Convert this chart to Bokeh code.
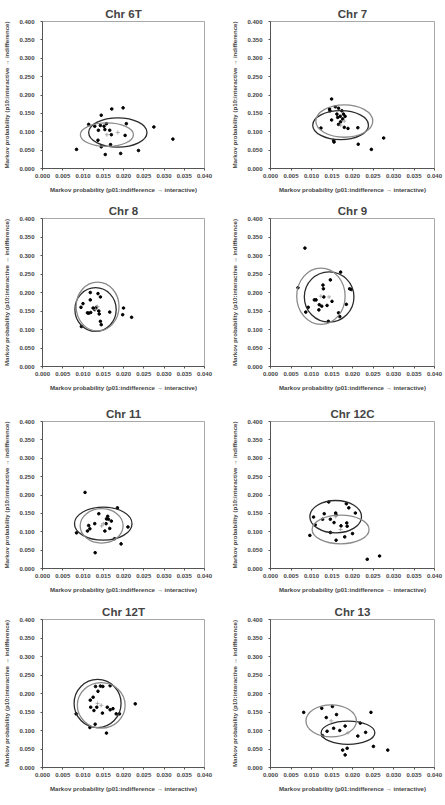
from bokeh.plotting import figure
from bokeh.layouts import column, row
from bokeh.models import FixedTicker, NumeralTickFormatter
from bokeh.embed import file_html
from bokeh.resources import INLINE

# Axis ticks shared by every panel
x_ticks = [0.000, 0.005, 0.010, 0.015, 0.020, 0.025, 0.030, 0.035, 0.040]
y_ticks = [0.000, 0.050, 0.100, 0.150, 0.200, 0.250, 0.300, 0.350, 0.400]

x_label = "Markov probability (p01:indifference \u2192 interactive)"
y_label = "Markov probability (p10:interactive \u2192 indifference)"

# ---- Chr 6T ----
chr6t_p01 = [0.0084, 0.0114, 0.0129, 0.0138, 0.0143, 0.0145, 0.0152, 0.0154, 0.0158, 0.0145,
             0.0137, 0.0171, 0.0166, 0.0170, 0.0155, 0.0168, 0.0199, 0.0204, 0.0207, 0.0193,
             0.0237, 0.0275, 0.0322]
chr6t_p10 = [0.052, 0.120, 0.115, 0.104, 0.117, 0.145, 0.115, 0.106, 0.122, 0.059,
             0.077, 0.162, 0.104, 0.092, 0.038, 0.065, 0.165, 0.090, 0.122, 0.041,
             0.049, 0.113, 0.080]
chr6t_ell_x = [0.0186, 0.0159]
chr6t_ell_y = [0.098, 0.092]
chr6t_ell_w = [0.0144, 0.0131]
chr6t_ell_h = [0.080, 0.064]

# ---- Chr 7 ----
chr7_p01 = [0.0149, 0.0144, 0.0145, 0.0158, 0.0166, 0.0174, 0.0149, 0.0162, 0.0164, 0.0170,
            0.0178, 0.0182, 0.0176, 0.0171, 0.0166, 0.0180, 0.0189, 0.0123, 0.0154, 0.0155,
            0.0213, 0.0214, 0.0246, 0.0276]
chr7_p10 = [0.189, 0.162, 0.157, 0.168, 0.164, 0.157, 0.132, 0.148, 0.139, 0.142,
            0.148, 0.142, 0.135, 0.127, 0.120, 0.112, 0.109, 0.110, 0.076, 0.072,
            0.111, 0.066, 0.052, 0.083]
chr7_ell_x = [0.0171, 0.0180]
chr7_ell_y = [0.118, 0.129]
chr7_ell_w = [0.0136, 0.0139]
chr7_ell_h = [0.079, 0.088]

# ---- Chr 8 ----
chr8_p01 = [0.0096, 0.0095, 0.0100, 0.0118, 0.0118, 0.0111, 0.0114, 0.0119, 0.0125, 0.0129,
            0.0133, 0.0137, 0.0143, 0.0139, 0.0140, 0.0143, 0.0145, 0.0166, 0.0200, 0.0198,
            0.0220]
chr8_p10 = [0.108, 0.160, 0.170, 0.200, 0.180, 0.145, 0.144, 0.146, 0.158, 0.154,
            0.160, 0.197, 0.188, 0.150, 0.142, 0.122, 0.113, 0.147, 0.158, 0.140,
            0.133]
chr8_ell_x = [0.0131, 0.0136]
chr8_ell_y = [0.154, 0.162]
chr8_ell_w = [0.0102, 0.0106]
chr8_ell_h = [0.118, 0.132]

# ---- Chr 9 ----
chr9_p01 = [0.0084, 0.0067, 0.0086, 0.0092, 0.0107, 0.0111, 0.0118, 0.0119, 0.0125, 0.0128,
            0.0129, 0.0130, 0.0138, 0.0141, 0.0146, 0.0150, 0.0166, 0.0169, 0.0171, 0.0185,
            0.0193, 0.0197]
chr9_p10 = [0.320, 0.213, 0.147, 0.160, 0.180, 0.180, 0.153, 0.167, 0.163, 0.220,
            0.210, 0.188, 0.165, 0.122, 0.234, 0.176, 0.145, 0.135, 0.255, 0.168,
            0.210, 0.208]
chr9_ell_x = [0.0143, 0.0123]
chr9_ell_y = [0.188, 0.190]
chr9_ell_w = [0.0121, 0.0118]
chr9_ell_h = [0.136, 0.152]

# ---- Chr 11 ----
chr11_p01 = [0.0105, 0.0084, 0.0114, 0.0117, 0.0111, 0.0129, 0.0139, 0.0130, 0.0154, 0.0157,
             0.0158, 0.0161, 0.0163, 0.0170, 0.0166, 0.0178, 0.0185, 0.0194, 0.0211]
chr11_p10 = [0.207, 0.097, 0.117, 0.108, 0.102, 0.122, 0.149, 0.043, 0.102, 0.122,
             0.135, 0.142, 0.134, 0.129, 0.109, 0.081, 0.165, 0.067, 0.113]
chr11_ell_x = [0.0150, 0.0146]
chr11_ell_y = [0.122, 0.116]
chr11_ell_w = [0.0142, 0.0106]
chr11_ell_h = [0.090, 0.094]

# ---- Chr 12C ----
chr12c_p01 = [0.0096, 0.0105, 0.0109, 0.0127, 0.0131, 0.0142, 0.0146, 0.0146, 0.0155, 0.0159,
              0.0160, 0.0160, 0.0172, 0.0181, 0.0185, 0.0186, 0.0187, 0.0191, 0.0200, 0.0207,
              0.0236, 0.0266]
chr12c_p10 = [0.090, 0.140, 0.119, 0.134, 0.149, 0.181, 0.134, 0.098, 0.125, 0.151,
              0.146, 0.077, 0.116, 0.086, 0.176, 0.124, 0.115, 0.165, 0.095, 0.151,
              0.025, 0.034]
chr12c_ell_x = [0.0159, 0.0171]
chr12c_ell_y = [0.141, 0.106]
chr12c_ell_w = [0.0126, 0.0139]
chr12c_ell_h = [0.088, 0.078]

# ---- Chr 12T ----
chr12t_p01 = [0.0083, 0.0117, 0.0118, 0.0119, 0.0125, 0.0127, 0.0130, 0.0131, 0.0134, 0.0137,
              0.0143, 0.0148, 0.0149, 0.0158, 0.0160, 0.0167, 0.0167, 0.0174, 0.0182, 0.0190,
              0.0229]
chr12t_p10 = [0.145, 0.108, 0.182, 0.163, 0.190, 0.154, 0.117, 0.219, 0.163, 0.206,
              0.220, 0.147, 0.219, 0.093, 0.163, 0.221, 0.156, 0.159, 0.145, 0.145,
              0.172]
chr12t_ell_x = [0.0136, 0.0145]
chr12t_ell_y = [0.173, 0.168]
chr12t_ell_w = [0.0116, 0.0118]
chr12t_ell_h = [0.130, 0.123]

# ---- Chr 13 ----
chr13_p01 = [0.0081, 0.0125, 0.0136, 0.0151, 0.0161, 0.0127, 0.0138, 0.0154, 0.0169, 0.0182,
             0.0176, 0.0187, 0.0182, 0.0213, 0.0219, 0.0232, 0.0245, 0.0251, 0.0286]
chr13_p10 = [0.149, 0.160, 0.135, 0.165, 0.143, 0.086, 0.098, 0.106, 0.100, 0.112,
             0.047, 0.052, 0.034, 0.085, 0.120, 0.095, 0.149, 0.057, 0.047]
chr13_ell_x = [0.0189, 0.0148]
chr13_ell_y = [0.094, 0.126]
chr13_ell_w = [0.0131, 0.0123]
chr13_ell_h = [0.063, 0.087]

panels = [
    ("Chr 6T", chr6t_p01, chr6t_p10, chr6t_ell_x, chr6t_ell_y, chr6t_ell_w, chr6t_ell_h),
    ("Chr 7", chr7_p01, chr7_p10, chr7_ell_x, chr7_ell_y, chr7_ell_w, chr7_ell_h),
    ("Chr 8", chr8_p01, chr8_p10, chr8_ell_x, chr8_ell_y, chr8_ell_w, chr8_ell_h),
    ("Chr 9", chr9_p01, chr9_p10, chr9_ell_x, chr9_ell_y, chr9_ell_w, chr9_ell_h),
    ("Chr 11", chr11_p01, chr11_p10, chr11_ell_x, chr11_ell_y, chr11_ell_w, chr11_ell_h),
    ("Chr 12C", chr12c_p01, chr12c_p10, chr12c_ell_x, chr12c_ell_y, chr12c_ell_w, chr12c_ell_h),
    ("Chr 12T", chr12t_p01, chr12t_p10, chr12t_ell_x, chr12t_ell_y, chr12t_ell_w, chr12t_ell_h),
    ("Chr 13", chr13_p01, chr13_p10, chr13_ell_x, chr13_ell_y, chr13_ell_w, chr13_ell_h),
]

FONT = "Liberation Sans"
ELLIPSE_COLORS = ["#2b2b2b", "#8a8a8a"]

# (figure height, top border, bottom border) per grid row
ROW_GEOM = [(200, 21, 32), (200, 18, 34), (200, 21, 32), (205, 19, 38)]
# (figure width, left border, right border) per grid column
COL_GEOM = [(222, 40, 18), (223, 48, 11)]


def make_panel(idx, name, xs, ys, ex, ey, ew, eh):
    r, c = divmod(idx, 2)
    h, top, bottom = ROW_GEOM[r]
    w, left, right = COL_GEOM[c]
    p = figure(width=w, height=h, x_range=(0.0, 0.04), y_range=(0.0, 0.4),
               output_backend="svg", toolbar_location=None,
               min_border_left=left, min_border_right=right,
               min_border_top=top, min_border_bottom=bottom,
               title=name)
    p.title.text_font = FONT
    p.title.text_font_size = "11.5px"
    p.title.text_font_style = "bold"
    p.title.align = "center"
    p.title.standoff = 4
    p.title.offset = 0

    p.grid.visible = False
    p.outline_line_color = "#a8a8a8"
    p.outline_line_width = 1
    p.background_fill_color = "white"

    for ax, ticks in ((p.xaxis[0], x_ticks), (p.yaxis[0], y_ticks)):
        ax.ticker = FixedTicker(ticks=ticks)
        ax.formatter = NumeralTickFormatter(format="0.000")
        ax.major_label_text_font = FONT
        ax.major_label_text_font_size = "6px"
        ax.major_label_text_font_style = "bold"
        ax.major_tick_in = 0
        ax.major_tick_out = 2
        ax.minor_tick_line_color = None
        ax.axis_line_color = "#555555"
        ax.major_tick_line_color = "#555555"
        ax.axis_label_text_font = FONT
        ax.axis_label_text_font_size = "6.1px"
        ax.axis_label_text_font_style = "bold"
    p.xaxis.major_label_standoff = 3
    p.xaxis.axis_label_standoff = 5
    p.yaxis.major_label_standoff = 6
    p.yaxis.axis_label_standoff = 6
    p.xaxis.axis_label = x_label
    p.yaxis.axis_label = y_label

    p.scatter(xs, ys, size=2.6, marker="circle", color="black")
    p.ellipse(x=ex, y=ey, width=ew, height=eh, fill_color=None,
              line_color=ELLIPSE_COLORS, line_width=1.3)
    p.scatter(ex, ey, size=4, marker="cross", line_color="#9a9a9a", line_width=0.8)
    return p


figs = [make_panel(i, *pan) for i, pan in enumerate(panels)]
layout = column(*[row(figs[2 * k], figs[2 * k + 1]) for k in range(4)])

open("out.html", "w").write(file_html(layout, INLINE))
